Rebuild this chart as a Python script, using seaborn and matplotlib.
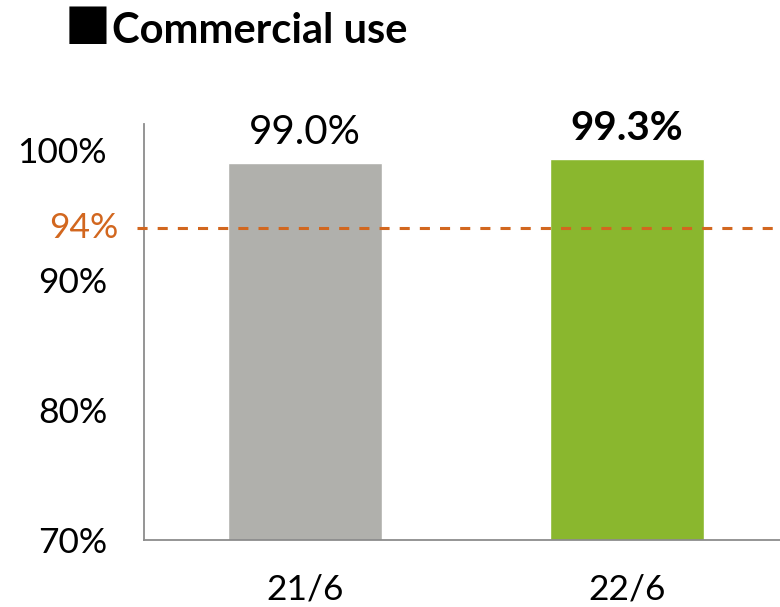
import matplotlib
matplotlib.use("Agg")
import matplotlib.pyplot as plt
import seaborn as sns
import pandas as pd

# Data
periods = ["21/6", "22/6"]
rates = [99.0, 99.3]
target = 94
yticks = [70, 80, 90, 100]
title_mark = "■"
title = "Commercial use"

bar_colors = ["#B0B0AC", "#8AB72E"]
target_color = "#D2671F"

sns.set_theme(style="white")
plt.rcParams["font.family"] = ["Lato", "DejaVu Sans"]

fig = plt.figure(figsize=(7.8, 6.07), dpi=100)
ax = fig.add_axes([144 / 780, 1 - 540 / 607, 644 / 780, 416 / 607])

df = pd.DataFrame({"period": periods, "rate": rates})
sns.barplot(data=df, x="period", y="rate", hue="period", palette=bar_colors,
            width=0.48, legend=False, ax=ax, saturation=1)

ax.set_ylim(70, 102)
ax.set_xlim(-0.5, 1.5)
ax.set_yticks(yticks)
ax.set_yticklabels([f"{t}%" for t in yticks])
ax.tick_params(axis="y", length=0, pad=26.6, labelsize=25.5, labelcolor="black")
ax.tick_params(axis="x", length=0, pad=24, labelsize=25.5, labelcolor="black")
ax.set_xlabel("")
ax.set_ylabel("")

for side in ["top", "right"]:
    ax.spines[side].set_visible(False)
for side in ["left", "bottom"]:
    ax.spines[side].set_color("#8C8C8C")
    ax.spines[side].set_linewidth(1.3)

# Target reference line
ax.axhline(target, xmin=-0.011, xmax=1.0, color=target_color, lw=2.2,
           ls=(0, (3.3, 3.3)), clip_on=False, zorder=3)
ax.text(-0.040, target, f"{target}%", transform=ax.get_yaxis_transform(),
        ha="right", va="center", fontsize=25.5, color=target_color)

# Value labels
for i, (p, v) in enumerate(zip(periods, rates)):
    ax.text(i, v + 0.95, f"{v:.1f}%", ha="center", va="bottom", fontsize=29,
            fontweight="bold" if i == len(rates) - 1 else "normal", color="black")

# Title
fig.text(65 / 780, 1 - 24 / 607, title_mark, ha="left", va="center",
         fontsize=35, color="black", family="DejaVu Sans")
fig.text(112 / 780, 1 - 31 / 607, title, ha="left", va="center",
         fontsize=30, fontweight="bold", color="black")

fig.savefig("out.png", dpi=100, facecolor="white")
